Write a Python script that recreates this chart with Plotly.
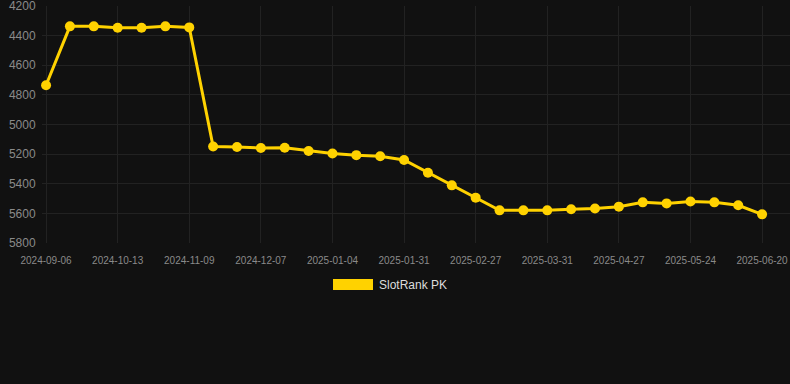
import plotly.graph_objects as go

dates = [
    "2024-09-06", "2024-09-18", "2024-10-01", "2024-10-13", "2024-10-22", "2024-10-31",
    "2024-11-09", "2024-11-18", "2024-11-27", "2024-12-07", "2024-12-16", "2024-12-25",
    "2025-01-04", "2025-01-13", "2025-01-22", "2025-01-31", "2025-02-09", "2025-02-18",
    "2025-02-27", "2025-03-10", "2025-03-20", "2025-03-31", "2025-04-09", "2025-04-18",
    "2025-04-27", "2025-05-06", "2025-05-15", "2025-05-24", "2025-06-02", "2025-06-11",
    "2025-06-20",
]
rank = [
    4735, 4337, 4337, 4346, 4346, 4337, 4344, 5149, 5152, 5159, 5157, 5179,
    5196, 5207, 5214, 5240, 5326, 5411, 5494, 5580, 5580, 5580, 5573, 5567,
    5555, 5526, 5533, 5520, 5526, 5546, 5607,
]
tick_labels = dates[::3]
y_ticks = [4200, 4400, 4600, 4800, 5000, 5200, 5400, 5600, 5800]
series_name = "SlotRank PK"

BG = "#111111"
GOLD = "#FFD200"
GRID = "#222222"

idx = list(range(len(dates)))

fig = go.Figure()
fig.add_trace(go.Scatter(
    x=idx, y=rank, mode="lines+markers", name=series_name,
    line=dict(color=GOLD, width=3),
    marker=dict(color=GOLD, size=10),
    showlegend=False,
    hovertext=dates,
    cliponaxis=False,
))

fig.update_layout(
    width=790, height=384,
    paper_bgcolor=BG, plot_bgcolor=BG,
    margin=dict(l=42, r=0, t=6, b=141),
    font=dict(family="Liberation Sans, Arial, sans-serif", color="#8a8a8a"),
    xaxis=dict(
        range=[-0.17, 31.17],
        tickmode="array", tickvals=idx[::3], ticktext=tick_labels,
        tickfont=dict(size=10, color="#8a8a8a"),
        showgrid=True, gridcolor=GRID, gridwidth=1,
        zeroline=False, showline=False,
        ticks="outside", ticklen=8, tickcolor=BG,
        automargin=False,
    ),
    yaxis=dict(
        range=[5800.5, 4199.5],
        tickmode="array", tickvals=y_ticks,
        tickfont=dict(size=12, color="#8a8a8a"),
        showgrid=True, gridcolor=GRID, gridwidth=1,
        zeroline=False, showline=False,
        ticks="outside", ticklen=3, tickcolor=BG,
        automargin=False,
        ticklabeloverflow="allow",
    ),
    shapes=[dict(
        type="rect", xref="paper", yref="paper",
        x0=(333 - 42) / 748, x1=(373 - 42) / 748,
        y0=(243 - 290) / 237, y1=(243 - 279) / 237,
        fillcolor=GOLD, line=dict(width=0),
    )],
    annotations=[dict(
        xref="paper", yref="paper",
        x=(377 - 42) / 748, y=(243 - 285) / 237,
        xanchor="left", yanchor="middle",
        text=series_name, showarrow=False,
        font=dict(size=12, color="#dddddd"),
    )],
)

fig.write_html(
    "out.html",
    config={"displayModeBar": False},
    post_script="document.body.style.margin='0';document.body.style.background='#111111';",
)
